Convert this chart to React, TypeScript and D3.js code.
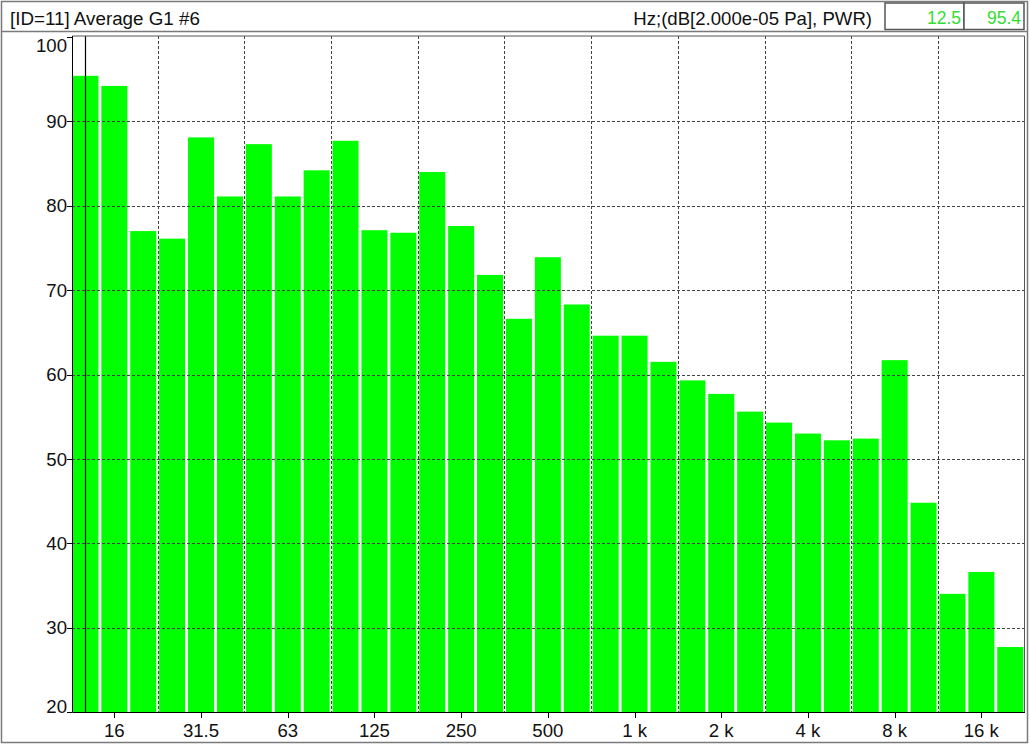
import { useEffect, useRef } from "react";
import * as d3 from "d3";

// 1/3-octave bands, 12.5 Hz .. 20 kHz
const bands = [
  "12.5", "16", "20", "25", "31.5", "40", "50", "63", "80", "100", "125",
  "160", "200", "250", "315", "400", "500", "630", "800", "1k", "1.25k",
  "1.6k", "2k", "2.5k", "3.15k", "4k", "5k", "6.3k", "8k", "10k", "12.5k",
  "16k", "20k",
];

// dB levels
const levels = [
  95.4, 94.2, 77.0, 76.1, 88.1, 81.1, 87.3, 81.1, 84.2, 87.7, 77.1,
  76.8, 84.0, 77.6, 71.8, 66.6, 73.9, 68.3, 64.6, 64.6, 61.5,
  59.3, 57.7, 55.6, 54.3, 53.0, 52.2, 52.4, 61.7, 44.8, 34.0,
  36.6, 27.7,
];

const xTickBands = ["16", "31.5", "63", "125", "250", "500", "1k", "2k", "4k", "8k", "16k"];
const xTickLabels = ["16", "31.5", "63", "125", "250", "500", "1 k", "2 k", "4 k", "8 k", "16 k"];
const yTicks = [20, 30, 40, 50, 60, 70, 80, 90, 100];

const W = 1030;
const H = 745;
const FONT = "'Liberation Sans', Arial, sans-serif";
const FS = 18.6;

export const App = () => {
  const chartRef = useRef<HTMLDivElement>(null);

  useEffect(() => {
    document.body.style.margin = "0";
    d3.select(chartRef.current).select("svg").remove();

    const svg = d3
      .select(chartRef.current)
      .append("svg")
      .attr("width", W)
      .attr("height", H)
      .style("display", "block")
      .style("font-family", FONT);

    svg.append("rect").attr("width", W).attr("height", H).attr("fill", "#fff");

    // plot box
    const left = 72, right = 1024, top = 36, bottom = 712;

    const x = d3
      .scaleBand<string>()
      .domain(bands)
      .range([71, 71 + 33 * 28.9])
      .paddingInner(0.1)
      .paddingOuter(0.05);

    const y = d3.scaleLinear().domain([20, 100]).range([bottom, 37]);

    // outer frame + header
    svg.append("rect")
      .attr("x", 1.5).attr("y", 1.5).attr("width", W - 4).attr("height", H - 4)
      .attr("fill", "none").attr("stroke", "#7a7a7a").attr("stroke-width", 1.5);
    svg.append("line")
      .attr("x1", 2).attr("x2", W - 3).attr("y1", 31.5).attr("y2", 31.5)
      .attr("stroke", "#7a7a7a").attr("stroke-width", 1.5);

    svg.append("text")
      .attr("x", 10).attr("y", 25)
      .attr("font-size", 18.8).attr("fill", "#111")
      .text("[ID=11] Average G1 #6");
    svg.append("text")
      .attr("x", 872).attr("y", 25)
      .attr("text-anchor", "end")
      .attr("font-size", FS).attr("fill", "#111")
      .text("Hz;(dB[2.000e-05 Pa], PWR)");

    // readout boxes
    const boxes = [
      { x0: 885, x1: 964, value: "12.5" },
      { x0: 964, x1: 1024, value: "95.4" },
    ];
    boxes.forEach((b) => {
      svg.append("rect")
        .attr("x", b.x0).attr("y", 3).attr("width", b.x1 - b.x0).attr("height", 26.5)
        .attr("fill", "#fff").attr("stroke", "#555").attr("stroke-width", 1.5);
      svg.append("text")
        .attr("x", b.x1 - 3).attr("y", 24)
        .attr("text-anchor", "end")
        .attr("font-size", 17.5).attr("fill", "#33dd33")
        .text(b.value);
    });

    // bars
    svg.append("g")
      .selectAll("rect")
      .data(levels)
      .join("rect")
      .attr("x", (_, i) => x(bands[i]) as number)
      .attr("width", x.bandwidth())
      .attr("y", (d) => y(d))
      .attr("height", (d) => bottom - y(d))
      .attr("fill", "#00ff00");

    // grid on top of bars
    const grid = svg.append("g")
      .attr("stroke", "#444")
      .attr("stroke-width", 1)
      .attr("stroke-dasharray", "3,2");

    grid.selectAll("line.h")
      .data(yTicks.filter((t) => t > 20 && t < 100))
      .join("line")
      .attr("class", "h")
      .attr("x1", left).attr("x2", right)
      .attr("y1", (d) => Math.round(y(d)) + 0.5)
      .attr("y2", (d) => Math.round(y(d)) + 0.5);

    const gap = (x.step() * x.paddingInner()) / 2;
    const vIdx = d3.range(3, 31, 3);
    grid.selectAll("line.v")
      .data(vIdx)
      .join("line")
      .attr("class", "v")
      .attr("x1", (i) => Math.round((x(bands[i]) as number) - gap) + 0.5)
      .attr("x2", (i) => Math.round((x(bands[i]) as number) - gap) + 0.5)
      .attr("y1", top).attr("y2", bottom);

    // cursor on first band
    const cx = Math.round((x(bands[0]) as number) + x.bandwidth() / 2) + 0.5;
    svg.append("line")
      .attr("x1", cx).attr("x2", cx).attr("y1", top).attr("y2", bottom)
      .attr("stroke", "#000").attr("stroke-width", 1.2);

    // plot frame
    svg.append("path")
      .attr("d", `M${left + 0.5},${top}H${right + 0.5}V${bottom}`)
      .attr("fill", "none").attr("stroke", "#555").attr("stroke-width", 1);
    svg.append("path")
      .attr("d", `M${left + 0.5},${top}V${bottom + 0.5}H${right + 1}`)
      .attr("fill", "none").attr("stroke", "#000").attr("stroke-width", 1);

    // y axis
    const yAxis = svg.append("g");
    yAxis.selectAll("line")
      .data(yTicks)
      .join("line")
      .attr("x1", 67).attr("x2", left)
      .attr("y1", (d) => Math.round(y(d)) + 0.5)
      .attr("y2", (d) => Math.round(y(d)) + 0.5)
      .attr("stroke", "#000");
    yAxis.selectAll("text")
      .data(yTicks)
      .join("text")
      .attr("x", 67)
      .attr("y", (d) => {
        // keep the end labels inside the plot height
        const c = Math.max(45, Math.min(706, y(d)));
        return c + 6.7;
      })
      .attr("text-anchor", "end")
      .attr("font-size", FS)
      .attr("fill", "#111")
      .text((d) => d);

    // x axis
    const xAxis = svg.append("g");
    xAxis.selectAll("line")
      .data(xTickBands)
      .join("line")
      .attr("x1", (d) => Math.round((x(d) as number) + x.bandwidth() / 2) + 0.5)
      .attr("x2", (d) => Math.round((x(d) as number) + x.bandwidth() / 2) + 0.5)
      .attr("y1", bottom).attr("y2", bottom + 6)
      .attr("stroke", "#000");
    xAxis.selectAll("text")
      .data(xTickBands)
      .join("text")
      .attr("x", (d) => (x(d) as number) + x.bandwidth() / 2)
      .attr("y", 737)
      .attr("text-anchor", "middle")
      .attr("font-size", FS)
      .attr("fill", "#111")
      .text((_, i) => xTickLabels[i]);
  }, []);

  return <div ref={chartRef} className="spectrumChart" />;
};

export default App;
